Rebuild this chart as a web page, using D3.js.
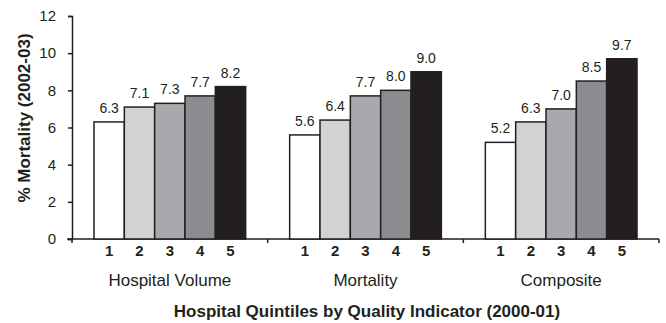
<!DOCTYPE html>
<html><head><meta charset="utf-8">
<script src="https://cdn.jsdelivr.net/npm/d3@7"></script>
<style>body{margin:0;background:#fff}svg{display:block}text{font-family:"Liberation Sans",Arial,sans-serif;fill:#231f20}</style>
</head><body><svg id="c" width="666" height="323"></svg>
<script>
const groups = ["Hospital Volume", "Mortality", "Composite"];
const quintiles = ["1", "2", "3", "4", "5"];
const valuesVolume = [6.3, 7.1, 7.3, 7.7, 8.2];
const valuesMortality = [5.6, 6.4, 7.7, 8.0, 9.0];
const valuesComposite = [5.2, 6.3, 7.0, 8.5, 9.7];
const yTicks = [0, 2, 4, 6, 8, 10, 12];
const labels = ["6.3","7.1","7.3","7.7","8.2","5.6","6.4","7.7","8.0","9.0","5.2","6.3","7.0","8.5","9.7"];
const series = [valuesVolume, valuesMortality, valuesComposite];
const fills = ["#ffffff", "#d1d2d4", "#a7a9ac", "#8a8c8f", "#231f20"];

const svg = d3.select("#c");
const x0 = d3.scaleBand().domain(groups).range([72, 659]).paddingInner(0).paddingOuter(0);
const x1 = d3.scaleBand().domain(quintiles).range([22, x0.bandwidth() - 22]).padding(0);
const y = d3.scaleLinear().domain([0, 12]).range([239, 16]);

// y axis
const yAxis = svg.append("g").attr("transform", "translate(72,0)")
  .call(d3.axisLeft(y).tickValues(yTicks).tickSize(4).tickPadding(12).tickFormat(d3.format("d")));
yAxis.select(".domain").attr("stroke", "#231f20").attr("stroke-width", 1.5);
yAxis.selectAll(".tick line").attr("stroke", "#231f20").attr("stroke-width", 1.5);
yAxis.selectAll("text").style("font-size", "15px").attr("fill", "#231f20");

// x axis
const xa = svg.append("g");
xa.append("line").attr("x1", 67).attr("x2", 659).attr("y1", y(0)).attr("y2", y(0))
  .attr("stroke", "#231f20").attr("stroke-width", 1.5);
const bounds = [72].concat(groups.map(g => x0(g) + x0.bandwidth()));
xa.selectAll("line.tk").data(bounds).join("line").attr("class", "tk")
  .attr("x1", d => d).attr("x2", d => d).attr("y1", y(0)).attr("y2", y(0) + 4)
  .attr("stroke", "#231f20").attr("stroke-width", 1.5);

const data = [];
groups.forEach((g, gi) => quintiles.forEach((q, qi) => data.push({g, q, qi, v: series[gi][qi], lab: labels[gi*5+qi]})));

svg.append("g").selectAll("rect").data(data).join("rect")
  .attr("x", d => x0(d.g) + x1(d.q))
  .attr("y", d => y(d.v))
  .attr("width", x1.bandwidth())
  .attr("height", d => y(0) - y(d.v))
  .attr("fill", d => fills[d.qi])
  .attr("stroke", "#231f20").attr("stroke-width", 1.5);

svg.append("g").selectAll("text").data(data).join("text")
  .attr("x", d => x0(d.g) + x1(d.q) + x1.bandwidth() / 2)
  .attr("y", d => y(d.v) - 9)
  .attr("text-anchor", "middle").style("font-size", "14px")
  .text(d => d.lab);

svg.append("g").selectAll("text").data(data).join("text")
  .attr("x", d => x0(d.g) + x1(d.q) + x1.bandwidth() / 2)
  .attr("y", 256)
  .attr("text-anchor", "middle").style("font-size", "15px").style("font-weight", "bold")
  .text(d => d.q);

svg.append("g").selectAll("text").data(groups).join("text")
  .attr("x", g => x0(g) + x0.bandwidth() / 2)
  .attr("y", 286)
  .attr("text-anchor", "middle").style("font-size", "17px")
  .text(g => g);

svg.append("text").attr("x", 367).attr("y", 317).attr("text-anchor", "middle")
  .style("font-size", "17px").style("font-weight", "bold")
  .text("Hospital Quintiles by Quality Indicator (2000-01)");

svg.append("text").attr("transform", "translate(30,118) rotate(-90)").attr("text-anchor", "middle")
  .style("font-size", "17px").style("font-weight", "bold")
  .text("% Mortality (2002-03)");
</script></body></html>
